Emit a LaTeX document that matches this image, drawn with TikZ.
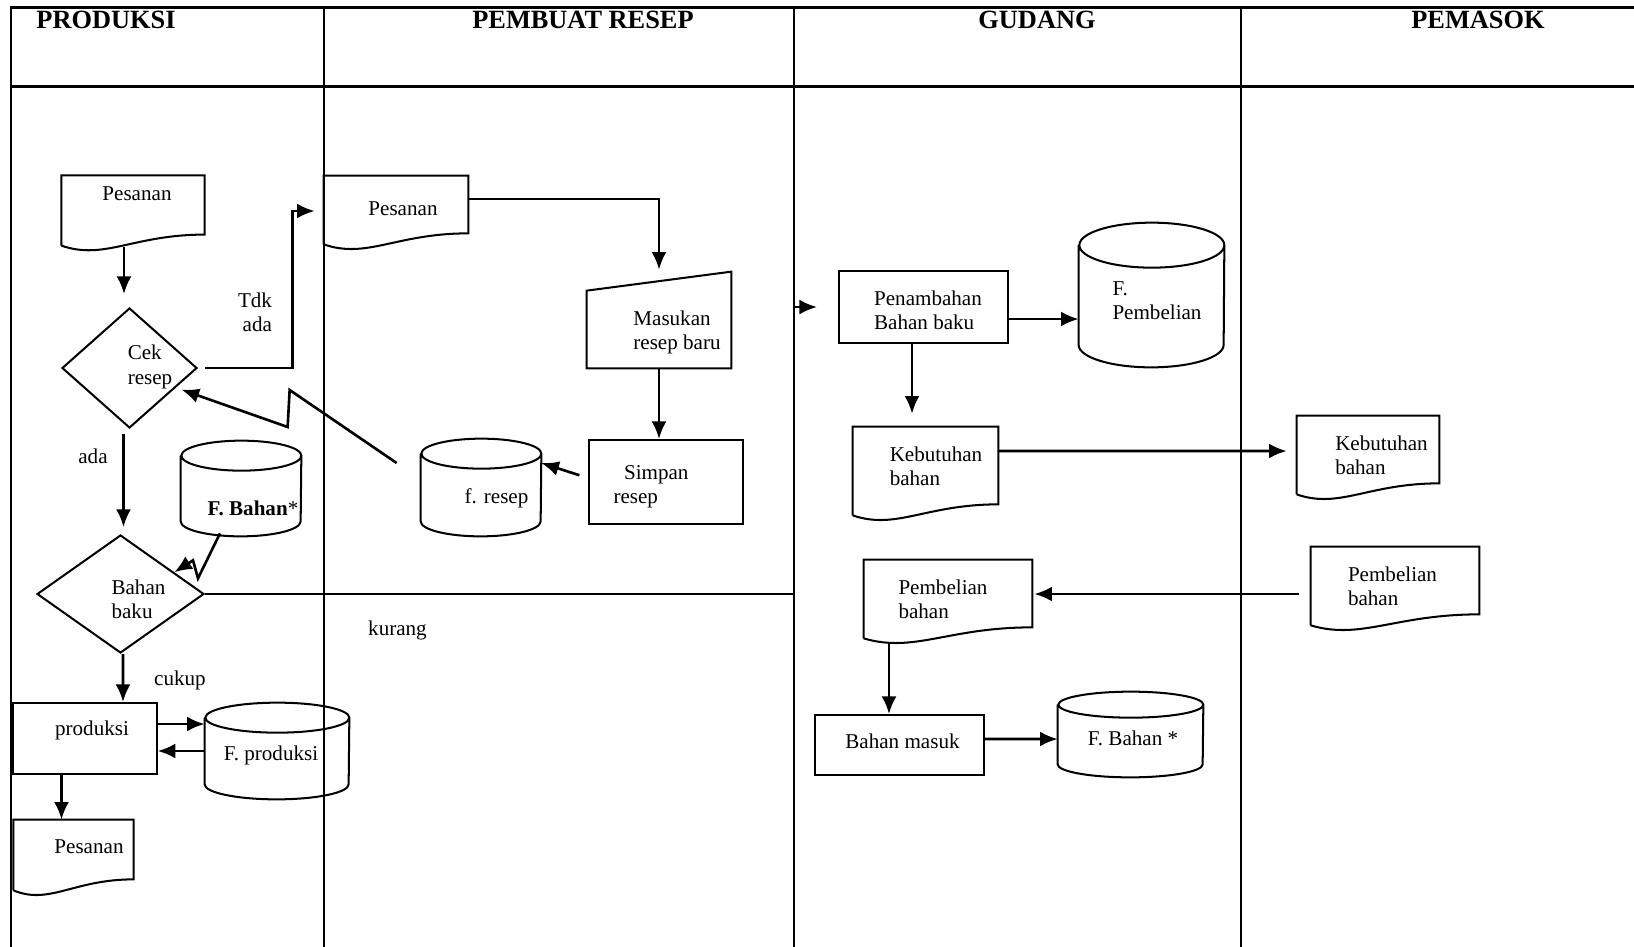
\documentclass[tikz,border=0pt]{standalone}
\usepackage{fontspec}
\setmainfont{Liberation Serif}
\usetikzlibrary{positioning,shapes.geometric,arrows.meta,calc}
\def\px{0.02cm}
\tikzstyle{shapeline}=[line width=1.15pt]
\tikzstyle{proc}=[draw,shapeline,rectangle,inner sep=0pt]
\tikzstyle{decis}=[draw,shapeline,diamond,inner sep=0pt]
\tikzstyle{ghost}=[rectangle,inner sep=0pt]
\tikzstyle{txt}=[align=left,inner sep=0pt,font=\fontsize{12}{13.8}\selectfont]
\tikzstyle{lbl}=[align=right,inner sep=0pt,font=\fontsize{12}{13.8}\selectfont]
\tikzstyle{head}=[anchor=base,font=\bfseries\fontsize{15}{18}\selectfont]
\tikzstyle{lane}=[line width=1.5pt]
\tikzstyle{flow}=[line width=1.5pt]
\newcommand{\newProc}[6]{\node[proc,minimum width=#3*\px,minimum height=#4*\px](#1) at (#2) {};
  \node[txt] (#1-t) at ($(#1)+(#5)$) {#6};}
\newcommand{\newDoc}[6]{\node[ghost,minimum width=#3*\px,minimum height=#4*\px](#1) at (#2) {};
  \draw[shapeline] ($(#1.south west)+(0,-11)$) -- (#1.north west) -- (#1.north east) -- (#1.south east)
    .. controls ($(#1.south east)!0.5!(#1.south west)$) and ($(#1.south west)!0.3!(#1.south east)+(0,-26)$) .. ($(#1.south west)+(0,-11)$);
  \node[txt] (#1-t) at ($(#1)+(#5)$) {#6};}
\newcommand{\newDrum}[7]{\node[ghost,minimum width=#3*\px,minimum height=#4*\px](#1) at (#2) {};
  \draw[shapeline] ($(#1.north west)+(0,-#5)$) -- ($(#1.south west)+(0,#5)$)
    arc[start angle=180,end angle=360,x radius=#3/2*\px,y radius=#5*\px]
    -- ($(#1.north east)+(0,-#5)$)
    arc[start angle=0,end angle=360,x radius=#3/2*\px,y radius=#5*\px];
  \node[txt] (#1-t) at ($(#1)+(#6)$) {#7};}

\begin{document}
\begin{tikzpicture}[x=\px,y=\px,
      >={Latex[length=10pt,width=8.5pt]},line join=miter
      ]
      \useasboundingbox (0,0) rectangle (1634,-947);
      % lanes
      \draw[lane] (11,-947) -- (11,-7.3) -- (1634,-7.3);
      \draw[lane] (11,-86.5) -- (1634,-86.5);
      \foreach \x in {324,794,1241} \draw[lane] (\x,-7.3) -- (\x,-947);
      \node[head] (hprod) at (106,-28) {PRODUKSI};
      \node[head] (hresep) at (583,-28) {PEMBUAT RESEP};
      \node[head] (hgud) at (1037,-28) {GUDANG};
      \node[head] (hpem) at (1478,-28) {PEMASOK};

      \newDoc{pes1}{133,-205}{142.5}{58.5}{4,11}{Pesanan}
      \node[decis,minimum width=135*\px,minimum height=120*\px] (cek) at (129.5,-368) {};
      \node[txt] (cek-t) at ($(cek)+(20.5,1)$) {Cek\\resep};
      \node[decis,minimum width=167*\px,minimum height=118*\px] (bahan) at (120.5,-594) {};
      \node[txt] (bahan-t) at ($(bahan)+(18,-5)$) {Bahan\\baku};
      \newDrum{fbahan}{241,-488.5}{120}{95}{15}{12,-20}{\textbf{F. Bahan}*}
      \newProc{prod}{85,-738.5}{143.5}{71}{7,8.5}{produksi}
      \newDrum{fprod}{277,-751}{144}{96}{15}{-6,-4}{F. produksi}
      \newDoc{pes3}{73.5,-849.5}{119.5}{59}{15.5,2.5}{Pesanan}

      \newDoc{pes2}{396,-204.5}{144}{57}{7,-4}{Pesanan}
      \node[ghost,minimum width=144*\px,minimum height=96*\px] (masin) at (659,-320) {};
      \draw[shapeline] (masin.south west) -- ($(masin.north west)+(0,-19)$) -- (masin.north east) -- (masin.south east) -- cycle;
      \node[txt] (masin-t) at ($(masin)+(18,-12.5)$) {Masukan\\resep baru};
      \newProc{simpan}{666,-482}{154}{84}{-15,-5}{\hspace*{6pt}Simpan\\resep}
      \newDrum{fresep}{481,-487.5}{120}{97}{15}{15.5,-10.5}{f. resep}

      \newProc{pen}{923.5,-307}{169}{72}{4.5,-3}{Penambahan\\Bahan baku}
      \newDrum{fpemb}{1151.5,-295}{145}{144}{22.5}{5.5,-6}{F.\\Pembelian}
      \newDoc{keb1}{925.5,-465.5}{145}{77}{10.5,-1}{Kebutuhan\\bahan}
      \newDoc{peb1}{948,-593.5}{168}{67}{-5,-6}{Pembelian\\bahan}
      \newProc{bm}{899.5,-745}{169}{60}{3,4}{Bahan masuk}
      \newDrum{fbahanb}{1130.5,-734.5}{145}{85}{13}{2.5,-3.5}{F. Bahan *}

      \newDoc{keb2}{1368,-449.5}{142}{67}{13.5,-6}{Kebutuhan\\bahan}
      \newDoc{peb2}{1395,-580.5}{168}{67}{-2.5,-6}{Pembelian\\bahan}

      \node[lbl] (tdk) at (255,-312) {Tdk\\ada};
      \node[lbl] (ada) at (93,-456) {ada};
      \node[lbl] (cukup) at (180,-680) {cukup};
      \node[lbl] (kurang) at (397.5,-630) {kurang};

      \coordinate (tdkbend) at ([xshift=-31*\px,yshift=-6.5*\px]pes2.west);
      \draw[flow,->,shorten <=12*\px,shorten >=13*\px] ([xshift=-9*\px]pes1.south) -- ([xshift=-5.5*\px]cek.north);
      \draw[flow,->,shorten <=7*\px,shorten >=9*\px] (cek.east) -| (tdkbend) -- ([yshift=-6.5*\px]pes2.west);
      \draw[flow,->,shorten >=6*\px] ([shift={(-24,24.5)}]fresep.west) -- ++(-107,73) -- ++(-2,-37) -- (cek.-23);
      \draw[flow,->,shorten <=5*\px,shorten >=7*\px] ([xshift=-6*\px]cek.south) -- ([xshift=3*\px]bahan.north);
      \draw[flow,->] ([shift={(-21,3)}]fbahan.south) -- ++(-22,-45) -- ++(-5,18) -- (bahan.22);
      \draw[flow,->,shorten >=21*\px] (bahan.east) -| ([xshift=-44*\px]pen.west) -- (pen.west);
      \draw[flow,->] ([xshift=2.5*\px]bahan.south) -- ([xshift=38*\px]prod.north);
      \draw[flow,->] ([yshift=14.5*\px]prod.east) -- ([yshift=27*\px]fprod.west);
      \draw[flow,->] (fprod.west) -- (prod.east |- fprod.west);
      \draw[flow,->] ([xshift=-23.5*\px]prod.south) -- ([xshift=-12*\px]pes3.north);
      \draw[flow,->,shorten >=2*\px] ([yshift=5.5*\px]pes2.east) -| (masin.north);
      \draw[flow,->] (masin.south) -- (masin.south |- simpan.north);
      \draw[flow,->,shorten <=9*\px] ([yshift=4*\px]simpan.west) -- ([yshift=24.5*\px]fresep.east);
      \draw[flow,->] ([yshift=-12*\px]pen.east) -- ([yshift=-24*\px]fpemb.west);
      \draw[flow,->,shorten >=13*\px] ([xshift=-11.5*\px]pen.south) -- ([xshift=-13.5*\px]keb1.north);
      \draw[flow,->,shorten >=10*\px] ([yshift=14.5*\px]keb1.east) -- ([yshift=-1.5*\px]keb2.west);
      \draw[flow,->,shorten <=12*\px,shorten >=2*\px] ([yshift=-13.5*\px]peb2.west) -- ([yshift=-0.5*\px]peb1.east);
      \draw[flow,->,shorten <=15*\px] ([xshift=-59*\px]peb1.south) -- ([xshift=-10.5*\px]bm.north);
      \draw[flow,->] ([yshift=6*\px]bm.east) -- ([yshift=-4.5*\px]fbahanb.west);
    \end{tikzpicture}
\end{document}
